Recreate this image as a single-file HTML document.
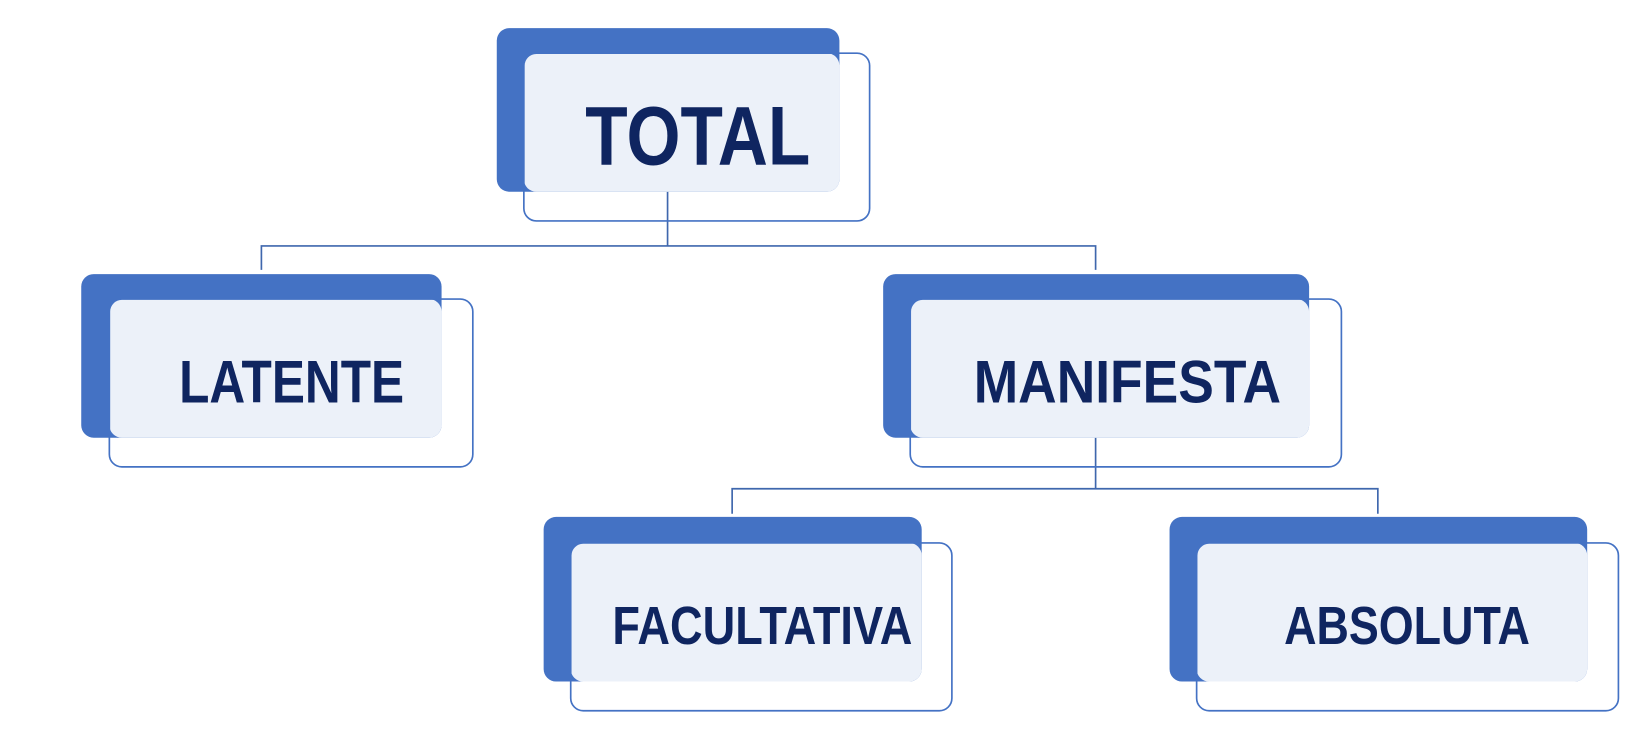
<!DOCTYPE html>
<html><head><meta charset="utf-8"><style>
html,body{margin:0;padding:0;background:#fff;}
svg{display:block;}
text{font-family:"Liberation Sans",sans-serif;font-weight:bold;fill:#0f2560;}
</style></head><body>
<svg width="1633" height="742" viewBox="0 0 1568 712" preserveAspectRatio="none">
<g stroke="#3f67ad" stroke-width="1.6" fill="none">
<path d="M641 184 V236 M251 259 V236 H1052 V259"/>
<path d="M1052 420 V469 M703 493 V469 H1323 V493"/>
</g>
<!-- TOTAL -->
<rect x="477" y="27" width="329" height="157" rx="12" fill="#4472c4"/>
<rect x="503" y="51" width="303" height="133" rx="12" fill="#ecf1f9"/>
<rect x="503" y="51" width="332" height="161" rx="12" fill="none" stroke="#4472c4" stroke-width="1.6"/>
<text x="562" y="158" font-size="80" textLength="216" lengthAdjust="spacingAndGlyphs">TOTAL</text>
<!-- LATENTE -->
<rect x="78" y="263" width="346" height="157" rx="12" fill="#4472c4"/>
<rect x="105" y="287" width="319" height="133" rx="12" fill="#ecf1f9"/>
<rect x="105" y="287" width="349" height="161" rx="12" fill="none" stroke="#4472c4" stroke-width="1.6"/>
<text x="172" y="386" font-size="58" textLength="216" lengthAdjust="spacingAndGlyphs">LATENTE</text>
<!-- MANIFESTA -->
<rect x="848" y="263" width="409" height="157" rx="12" fill="#4472c4"/>
<rect x="874" y="287" width="383" height="133" rx="12" fill="#ecf1f9"/>
<rect x="874" y="287" width="414" height="161" rx="12" fill="none" stroke="#4472c4" stroke-width="1.6"/>
<text x="935" y="386" font-size="58" textLength="295" lengthAdjust="spacingAndGlyphs">MANIFESTA</text>
<!-- FACULTATIVA -->
<rect x="522" y="496" width="363" height="158" rx="12" fill="#4472c4"/>
<rect x="548" y="521" width="337" height="133" rx="12" fill="#ecf1f9"/>
<rect x="548" y="521" width="366" height="161" rx="12" fill="none" stroke="#4472c4" stroke-width="1.6"/>
<text x="588" y="618" font-size="52" textLength="288" lengthAdjust="spacingAndGlyphs">FACULTATIVA</text>
<!-- ABSOLUTA -->
<rect x="1123" y="496" width="401" height="158" rx="12" fill="#4472c4"/>
<rect x="1149" y="521" width="375" height="133" rx="12" fill="#ecf1f9"/>
<rect x="1149" y="521" width="405" height="161" rx="12" fill="none" stroke="#4472c4" stroke-width="1.6"/>
<text x="1233" y="618" font-size="52" textLength="236" lengthAdjust="spacingAndGlyphs">ABSOLUTA</text>
</svg>
</body></html>
